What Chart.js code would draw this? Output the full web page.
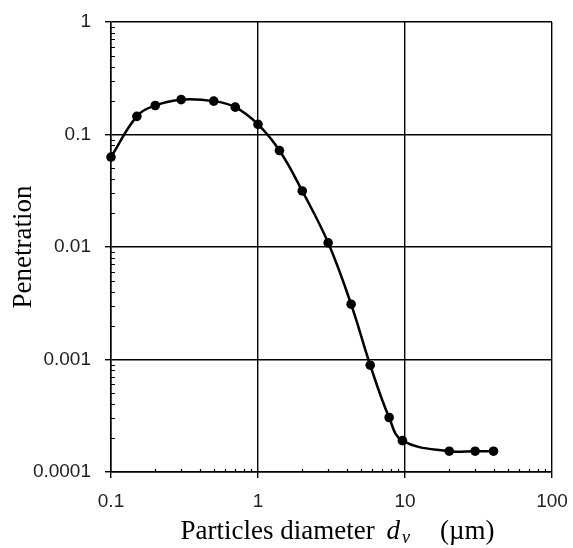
<!DOCTYPE html>
<html><head><meta charset="utf-8">
<script src="https://cdn.jsdelivr.net/npm/chart.js@4"></script>
<style>html,body{margin:0;padding:0;background:#fff;} canvas{display:block;}</style>
</head><body>
<canvas id="c" width="573" height="548"></canvas>
<script>
// ---- data ----
const diameters   = [0.1, 0.15, 0.2, 0.3, 0.5, 0.7, 1.0, 1.4, 2.0, 3.0, 4.3, 5.8, 7.8, 9.6, 20, 30, 40];
const penetration = [0.063, 0.145, 0.181, 0.204, 0.198, 0.175, 0.123, 0.072, 0.0315, 0.0109, 0.0031, 0.00089, 0.000305, 0.00019, 0.000153, 0.000153, 0.000153];
const xTickValues = [0.1, 1, 10, 100];
const xTickLabels = ['0.1', '1', '10', '100'];
const yTickValues = [0.0001, 0.001, 0.01, 0.1, 1];
const yTickLabels = ['0.0001', '0.001', '0.01', '0.1', '1'];
const yAxisTitle  = 'Penetration';
const xTitleMain  = 'Particles diameter ';
const xTitleSym   = 'd';
const xTitleSub   = 'v';
const xTitleUnit  = '(\u00b5m)';
const minorMultipliers = [2, 3, 4, 5, 6, 7, 8, 9];

const minorTicks = {
  id: 'minorTicks',
  afterDatasetsDraw(chart) {
    const ctx = chart.ctx, xs = chart.scales.x, ys = chart.scales.y;
    const ca = chart.chartArea;
    ctx.save();
    ctx.strokeStyle = '#000';
    ctx.lineWidth = 1.2;
    ctx.beginPath();
    for (let i = 0; i < xTickValues.length - 1; i++) {
      for (const m of minorMultipliers) {
        const px = Math.round(xs.getPixelForValue(xTickValues[i] * m)) + 0.5;
        ctx.moveTo(px, ca.bottom);
        ctx.lineTo(px, ca.bottom - 3);
      }
    }
    for (let i = 0; i < yTickValues.length - 1; i++) {
      for (const m of minorMultipliers) {
        const py = Math.round(ys.getPixelForValue(yTickValues[i] * m)) + 0.5;
        ctx.moveTo(ca.left, py);
        ctx.lineTo(ca.left + 4, py);
      }
    }
    ctx.stroke();
    ctx.restore();
  }
};

const xTitle = {
  id: 'xTitle',
  afterDraw(chart) {
    const ctx = chart.ctx, ca = chart.chartArea;
    ctx.save();
    ctx.fillStyle = '#000';
    ctx.textBaseline = 'alphabetic';
    ctx.textAlign = 'left';
    const mainFont = '27px "Liberation Serif"';
    const italFont = 'italic 27px "Liberation Serif"';
    const subFont = 'italic 18px "Liberation Serif"';
    ctx.font = mainFont; const w1 = ctx.measureText(xTitleMain).width;
    ctx.font = italFont; const w2 = ctx.measureText(xTitleSym).width;
    ctx.font = subFont; const w3 = ctx.measureText(xTitleSub).width;
    ctx.font = mainFont; const w4 = ctx.measureText(xTitleUnit).width;
    const gap1 = 5, gap2 = 2, gap3 = 30;
    const total = w1 + gap1 + w2 + gap2 + w3 + gap3 + w4;
    let x = (ca.left + ca.right) / 2 + 6 - total / 2;
    const base = 539;
    ctx.font = mainFont; ctx.fillText(xTitleMain, x, base); x += w1 + gap1;
    ctx.font = italFont; ctx.fillText(xTitleSym, x, base); x += w2 + gap2;
    ctx.font = subFont; ctx.fillText(xTitleSub, x, base + 4); x += w3 + gap3;
    ctx.font = mainFont; ctx.fillText(xTitleUnit, x, base);
    ctx.restore();
  }
};

new Chart(document.getElementById('c'), {
  type: 'line',
  data: {
    datasets: [{
      data: diameters.map((d, i) => ({ x: d, y: penetration[i] })),
      borderColor: '#000',
      backgroundColor: '#000',
      borderWidth: 2.5,
      pointRadius: 4.8,
      pointHoverRadius: 4.8,
      pointBorderWidth: 0,
      tension: 0.4,
      fill: false,
      clip: false
    }]
  },
  options: {
    responsive: false,
    animation: false,
    devicePixelRatio: 1,
    layout: { padding: { left: 0, right: 21, top: 22, bottom: 0 } },
    plugins: { legend: { display: false }, tooltip: { enabled: false } },
    scales: {
      x: {
        type: 'logarithmic',
        min: 0.1, max: 100,
        afterBuildTicks(s) { s.ticks = xTickValues.map(v => ({ value: v })); },
        afterFit(s) { s.height = 76; s.paddingLeft = 0; s.paddingRight = 0; },
        ticks: {
          callback: (v, i) => xTickLabels[i],
          font: { family: 'Liberation Sans', size: 19 },
          color: '#222',
          padding: 12,
          maxRotation: 0,
          autoSkip: false
        },
        grid: { color: '#000', lineWidth: 1.4, tickLength: 6, drawTicks: true },
        border: { color: '#000', width: 1.5 }
      },
      y: {
        type: 'logarithmic',
        min: 0.0001, max: 1,
        afterBuildTicks(s) { s.ticks = yTickValues.map(v => ({ value: v })); },
        afterFit(s) { s.width = 111; s.paddingTop = 0; s.paddingBottom = 0; },
        ticks: {
          callback: (v, i) => yTickLabels[i],
          font: { family: 'Liberation Sans', size: 19 },
          color: '#222',
          padding: 14,
          autoSkip: false
        },
        grid: { color: '#000', lineWidth: 1.4, tickLength: 6, drawTicks: true },
        border: { color: '#000', width: 1.5 },
        title: {
          display: true,
          text: yAxisTitle,
          font: { family: 'Liberation Serif', size: 27, weight: 'normal' },
          color: '#000',
          padding: { top: 8, bottom: 0 }
        }
      }
    }
  },
  plugins: [minorTicks, xTitle]
});
</script>
</body></html>
